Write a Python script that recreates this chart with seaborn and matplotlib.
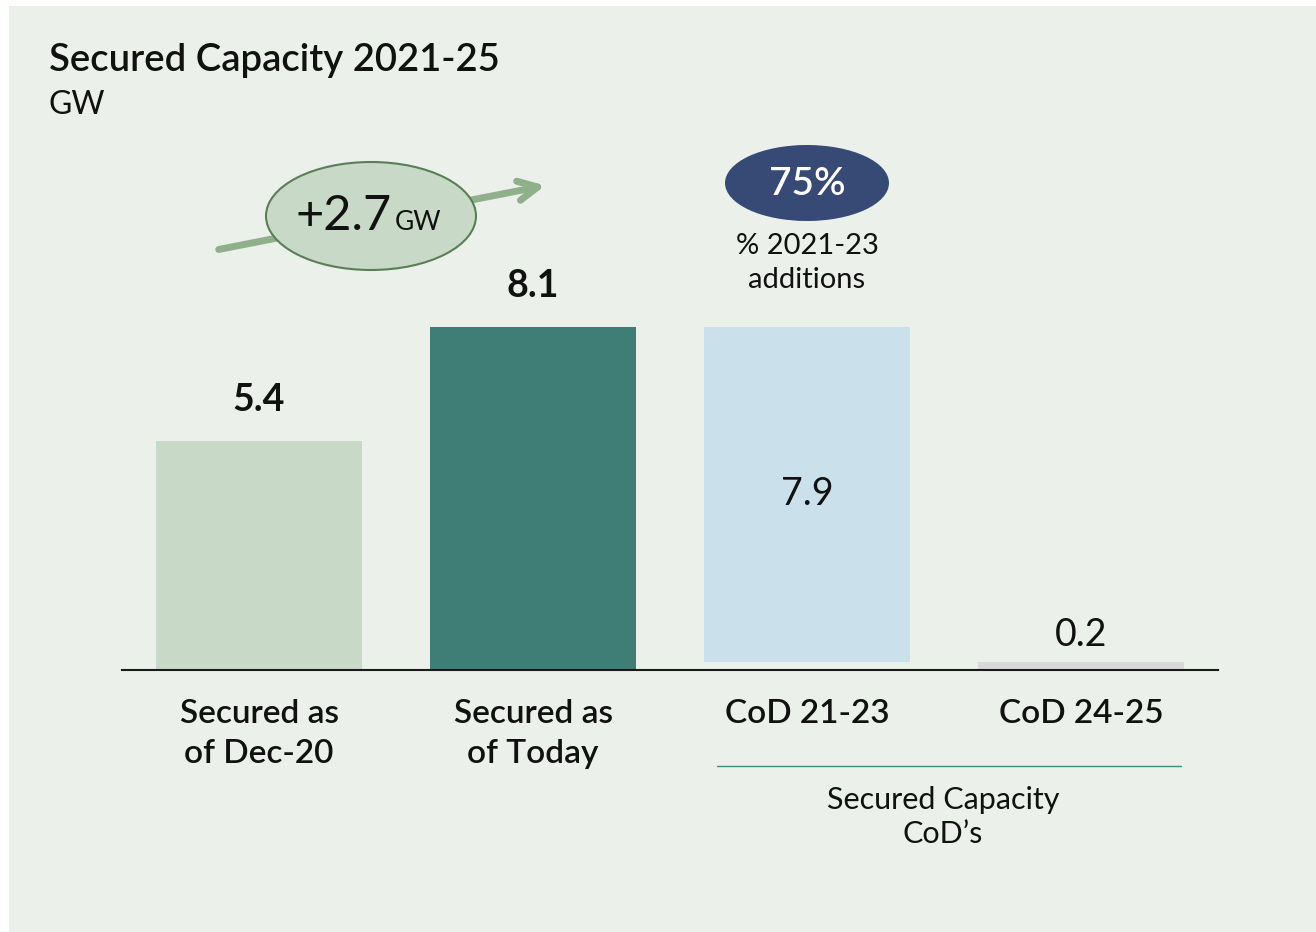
import matplotlib
matplotlib.use("Agg")
import matplotlib.pyplot as plt
from matplotlib.patches import Ellipse, Rectangle, FancyArrowPatch
from matplotlib.lines import Line2D
import matplotlib.transforms as mtransforms
import seaborn as sns
import pandas as pd

# --- data ---------------------------------------------------------------
categories = ["Secured as\nof Dec-20", "Secured as\nof Today", "CoD 21-23", "CoD 24-25"]
values = [5.4, 8.1, 7.9, 0.2]
bases = [0.0, 0.0, 0.2, 0.0]          # waterfall offsets for the CoD split
bar_colors = ["#C9D9C8", "#3F7E77", "#CAE0EA", "#D9D9D9"]
label_bold = [True, True, False, False]
label_inside = [False, False, True, False]

title = "Secured Capacity 2021-25"
unit = "GW"
growth_text = "+2.7"
share_text = "75%"
share_caption = "% 2021-23\nadditions"
group_caption = "Secured Capacity\nCoD\u2019s"

BG = "#EBF0EA"
INK = "#111111"
W, H = 1316, 932

sns.set_theme(style="white")
plt.rcParams["font.family"] = ["Lato", "DejaVu Sans"]

fig = plt.figure(figsize=(W / 100, H / 100), dpi=100, facecolor="white")


def fx(x):
    return x / W


def fy(y):
    return 1 - y / H


# panel background
fig.add_artist(Rectangle((fx(9), 0), 1 - fx(9), fy(6), transform=fig.transFigure,
                         facecolor=BG, edgecolor="none", zorder=0))

ax = fig.add_axes([fx(122), fy(670), fx(1218) - fx(122), fy(100) - fy(670)])
ax.set_facecolor("none")

df = pd.DataFrame({"category": categories, "value": values})
sns.barplot(data=df, x="category", y="value", hue="category",
            palette=dict(zip(categories, bar_colors)), width=0.75,
            legend=False, ax=ax, saturation=1)

# lift the CoD 21-23 bar onto the 0.2 base (waterfall)
for patch, base, val in zip(ax.patches, bases, values):
    patch.set_y(base)
    patch.set_height(val)
    patch.set_edgecolor("none")

ax.set_xlim(-0.5, 3.5)
ax.set_ylim(0, 570 / 42.4)
ax.set_xlabel("")
ax.set_ylabel("")
ax.set_yticks([])
ax.set_xticks([])
for s in ["top", "right", "left"]:
    ax.spines[s].set_visible(False)
ax.spines["bottom"].set_color("#1A1A1A")
ax.spines["bottom"].set_linewidth(1.5)

# value labels
for i, (base, val) in enumerate(zip(bases, values)):
    if label_inside[i]:
        ax.text(i, base + val / 2, f"{val:.1f}", ha="center", va="center",
                fontsize=27, color=INK)
    elif label_bold[i]:
        ax.annotate(f"{val:.1f}", (i, base + val), xytext=(0, 41),
                    textcoords="offset pixels", ha="center", va="center",
                    fontsize=27, fontweight="bold", color=INK)
    else:
        ax.annotate(f"{val:.1f}", (i, base + val), xytext=(0, 27),
                    textcoords="offset pixels", ha="center", va="center",
                    fontsize=27, color=INK)

# category labels under the axis
trans = mtransforms.blended_transform_factory(ax.transData, fig.transFigure)
for i, cat in enumerate(categories):
    y = fy(734) if "\n" in cat else fy(714)
    ax.text(i, y, cat, transform=trans, ha="center", va="center",
            fontsize=24, fontweight="semibold", color=INK, linespacing=1.38)

# group bracket for the CoD split
fig.add_artist(Line2D([fx(717), fx(1181)], [fy(766), fy(766)],
                      transform=fig.transFigure, color="#3C8C80", lw=1))
fig.text(fx(943), fy(817), group_caption, ha="center", va="center",
         fontsize=22, color=INK, linespacing=1.27)

# title
fig.text(fx(49), fy(61), title, ha="left", va="center", fontsize=27.5,
         fontweight="semibold", color=INK)
fig.text(fx(49), fy(105), unit, ha="left", va="center", fontsize=23,
         color=INK)

# growth arrow with ellipse
fig.add_artist(FancyArrowPatch((fx(216), fy(250)), (fx(548), fy(185)),
                               transform=fig.transFigure,
                               arrowstyle="->,head_length=14,head_width=7",
                               mutation_scale=1, lw=5, color="#8FB08A",
                               capstyle="round", zorder=2))
fig.add_artist(Ellipse((fx(371), fy(216)), fx(210), 108 / H,
                       transform=fig.transFigure, facecolor="#C9D9C8",
                       edgecolor="#5B7D57", lw=1.5, zorder=3))
fig.text(fx(392), fy(216), growth_text, ha="right", va="center", fontsize=35,
         color=INK, zorder=4)
fig.text(fx(395), fy(222), unit, ha="left", va="center", fontsize=19,
         color=INK, zorder=4)

# share badge
fig.add_artist(Ellipse((fx(807), fy(183)), fx(164), 76 / H,
                       transform=fig.transFigure, facecolor="#364A75",
                       edgecolor="none", zorder=3))
fig.text(fx(807), fy(184), share_text, ha="center", va="center", fontsize=28,
         fontweight="semibold", color="white", zorder=4)
fig.text(fx(807), fy(263), share_caption, ha="center", va="center",
         fontsize=21, color=INK, linespacing=1.36)

fig.savefig("out.png", dpi=100, facecolor="white")
